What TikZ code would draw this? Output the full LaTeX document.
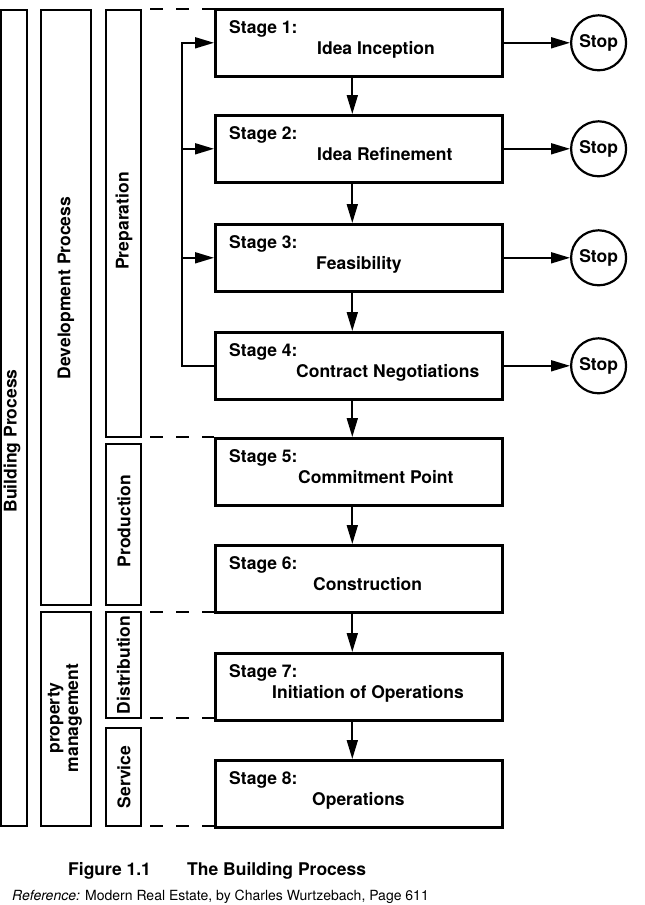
\documentclass[tikz,border=0pt]{standalone}
\usepackage{fontspec}
\setmainfont{TeX Gyre Heros}
\usetikzlibrary{arrows.meta,calc}
\begin{document}
\begin{tikzpicture}[x=1pt,y=-1pt,
  box/.style={draw,line width=2.6pt,minimum width=287pt,minimum height=67pt,inner sep=0pt,anchor=north west},
  bar/.style={draw,line width=1.8pt},
  stopc/.style={draw,circle,line width=2.2pt,minimum size=55pt,inner sep=0pt,font=\bfseries\fontsize{17.5}{20}\selectfont},
  lbl/.style={font=\bfseries\fontsize{17.5}{20}\selectfont,anchor=base west,inner sep=0pt},
  vl/.style={rotate=90,font=\bfseries\fontsize{17.5}{18.5}\selectfont,inner sep=0pt,align=center},
  arr/.style={line width=1.8pt,-{Triangle[length=19pt,width=11pt]}},
  ln/.style={line width=1.8pt},
  dsh/.style={line width=1.8pt,dash pattern=on 13pt off 13pt}
]
\useasboundingbox (0,0) rectangle (645,905);
\clip (0,0) rectangle (645,905);

% left bars
\draw[bar] (1,10) rectangle (27,826);
\draw[bar] (41,10) rectangle (91,605);
\draw[bar] (41,612) rectangle (91,826);
\draw[bar] (106,10) rectangle (141,437);
\draw[bar] (106,444) rectangle (141,605);
\draw[bar] (106,612) rectangle (141,718);
\draw[bar] (106,728) rectangle (141,826);

\node[vl] (tbp) at (12,441) {Building Process};
\node[vl] (tdp) at (66,288) {Development Process};
\node[vl] (tpm) at (65,718) {property\\management};
\node[vl] (tpr) at (124,221) {Preparation};
\node[vl] (tpd) at (124,521) {Production};
\node[vl] (tdi) at (123.5,665) {Distribution};
\node[vl] (tse) at (124,777) {Service};

% dashed separators
\draw[dsh] (150,9) -- (214,9);
\draw[dsh] (150,437) -- (214,437);
\draw[dsh] (150,612) -- (214,612);
\draw[dsh] (150,718) -- (214,718);
\draw[dsh] (150,826) -- (214,826);

% stage boxes
\node[box] (b1) at (214,8) {};
\node[box] (b2) at (214,114) {};
\node[box] (b3) at (214,223) {};
\node[box] (b4) at (214,331) {};
\node[box] (b5) at (214,437) {};
\node[box] (b6) at (214,544) {};
\node[box] (b7) at (214,652) {};
\node[box] (b8) at (214,759) {};

\foreach \i/\t/\xx in {1/Idea Inception/317,2/Idea Refinement/317,3/Feasibility/316,4/Contract Negotiations/296,5/Commitment Point/298,6/Construction/313,7/Initiation of Operations/272,8/Operations/312}{
  \node[lbl] (s\i a) at ([xshift=15pt,yshift=-25pt]b\i.north west) {Stage \i:};
  \node[lbl] (s\i b) at ([yshift=-46pt]b\i.north west -| \xx,0) {\t};
}

% stop circles
\foreach \i in {1,2,3,4}{
  \node[stopc] (st\i) at ([xshift=95pt]b\i.east) {Stop};
  \draw[arr] (b\i.east) -- (st\i.west);
}

% main flow
\foreach \i/\j in {1/2,2/3,3/4,4/5,5/6,6/7,7/8}{
  \draw[arr] ([xshift=-6.5pt]b\i.south) -- ([xshift=-6.5pt]b\j.north);
}

% feedback loop
\coordinate (sp) at (182,0);
\draw[arr] (b4.west) -- (b4.west -| sp) -- (b1.west -| sp) -- (b1.west);
\draw[arr] (b2.west -| sp) -- (b2.west);
\draw[arr] (b3.west -| sp) -- (b3.west);

% caption
\node[anchor=base west,inner sep=0pt,font=\bfseries\fontsize{17.5}{20}\selectfont] (cap1) at (68,875) {Figure 1.1};
\node[anchor=base west,inner sep=0pt,font=\bfseries\fontsize{17.5}{20}\selectfont] (cap2) at (187,875) {The Building Process};
\node[anchor=base west,inner sep=0pt,font=\fontsize{14}{16}\selectfont] (ref) at (12,900) {\textit{Reference:} Modern Real Estate, by Charles Wurtzebach, Page 611};
\end{tikzpicture}
\end{document}
